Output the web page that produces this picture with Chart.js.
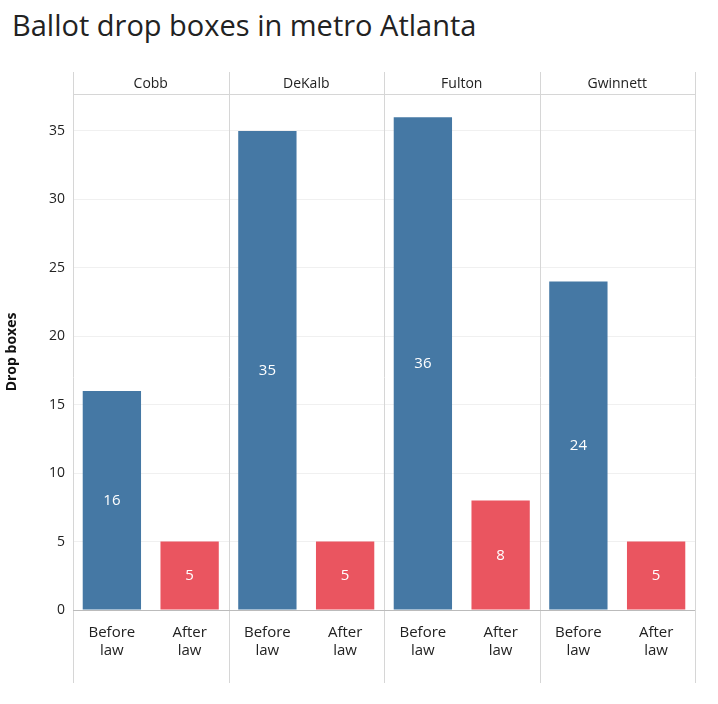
<!DOCTYPE html>
<html>
<head>
<meta charset="UTF-8">
<title>Ballot drop boxes</title>
<script src="https://cdn.jsdelivr.net/npm/chart.js"></script>
<style>
  body { margin: 0; background: #fff; font-family: "Open Sans", sans-serif; }
  h1 { position: absolute; left: 12px; top: 5px; margin: 0; font-weight: 400; font-size: 29px; color: #222; }
  #wrap { position: absolute; left: 0; top: 0; width: 718px; height: 704px; }
</style>
</head>
<body>
<h1>Ballot drop boxes in metro Atlanta</h1>
<div id="wrap"><canvas id="grafico"></canvas></div>
<script>
// dados
const counties = ['Cobb', 'DeKalb', 'Fulton', 'Gwinnett'];
const periods = [['Before', 'law'], ['After', 'law']];
const before = [16, 35, 36, 24];
const after = [5, 5, 8, 5];
const yTicks = [0, 5, 10, 15, 20, 25, 30, 35];

const blue = '#4578a4';
const red = '#ea5560';

let labels = [], valores = [], cores = [];
for (let i = 0; i < counties.length; i++) {
    labels.push(periods[0]); valores.push(before[i]); cores.push(blue);
    labels.push(periods[1]); valores.push(after[i]); cores.push(red);
}

// desenha paineis, cabecalhos e rotulos
const paineis = {
    id: 'paineis',
    afterDraw(chart) {
        const ctx = chart.ctx, a = chart.chartArea;
        const x = chart.scales.x, y = chart.scales.y;
        const w = (a.right - a.left) / counties.length;
        ctx.save();
        ctx.strokeStyle = '#d6d6d6';
        ctx.lineWidth = 1;
        for (let i = 0; i <= counties.length; i++) {
            const px = Math.round(a.left + i * w) + 0.5;
            ctx.beginPath(); ctx.moveTo(px, 72); ctx.lineTo(px, 683); ctx.stroke();
        }
        ctx.beginPath(); ctx.moveTo(a.left, a.top + 0.5); ctx.lineTo(a.right, a.top + 0.5); ctx.stroke();
        ctx.strokeStyle = '#bbb';
        ctx.beginPath(); ctx.moveTo(a.left, a.bottom + 0.5); ctx.lineTo(a.right, a.bottom + 0.5); ctx.stroke();
        ctx.fillStyle = '#222';
        ctx.font = '14px "Open Sans"';
        ctx.textAlign = 'center';
        ctx.textBaseline = 'middle';
        counties.forEach((c, i) => ctx.fillText(c, a.left + (i + 0.5) * w, 84));
        ctx.fillStyle = '#fff';
        ctx.font = '15px "Open Sans"';
        const meta = chart.getDatasetMeta(0);
        meta.data.forEach((bar, i) => {
            ctx.fillText(String(valores[i]), bar.x, y.getPixelForValue(valores[i] / 2));
        });
        ctx.restore();
    }
};

new Chart(document.getElementById('grafico'), {
    type: 'bar',
    data: {
        labels: labels,
        datasets: [{ data: valores, backgroundColor: cores, barPercentage: 0.75, categoryPercentage: 1 }]
    },
    options: {
        responsive: true,
        maintainAspectRatio: false,
        animation: false,
        layout: { padding: { top: 94, right: 23, bottom: 0, left: 0 } },
        plugins: { legend: { display: false }, tooltip: { enabled: false } },
        scales: {
            x: {
                grid: { display: false },
                border: { display: false },
                ticks: { color: '#222', font: { size: 15, family: 'Open Sans' }, padding: 6, maxRotation: 0 },
                afterFit(s) { s.height = 94; }
            },
            y: {
                min: 0, max: 37.7,
                afterBuildTicks(s) { s.ticks = yTicks.map(v => ({ value: v })); },
                grid: { color: '#f0f0f0', drawTicks: false },
                border: { display: false },
                ticks: { color: '#222', font: { size: 14, family: 'Open Sans' }, padding: 8 },
                title: { display: true, text: 'Drop boxes', color: '#111', font: { size: 14, weight: 'bold', family: 'Open Sans' } },
                afterFit(s) { s.width = 73; }
            }
        }
    },
    plugins: [paineis]
});
</script>
</body>
</html>
